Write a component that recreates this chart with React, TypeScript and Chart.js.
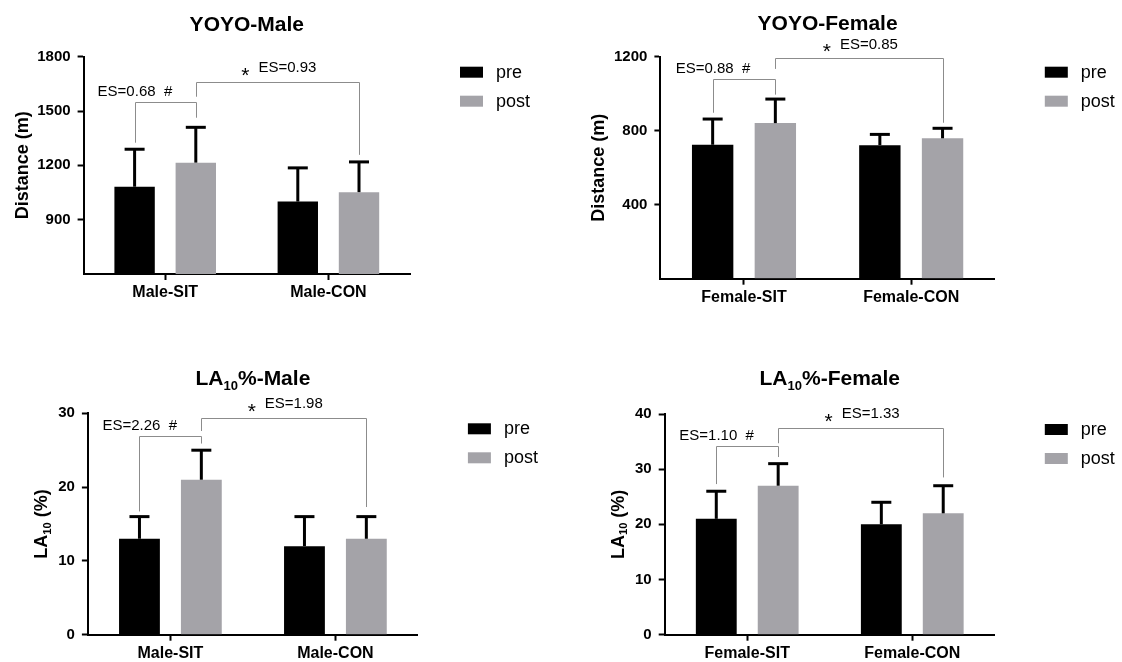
import React, { useEffect, useRef } from "react";
import { Chart, registerables } from "chart.js";

Chart.register(...registerables);

const FONT = "'Liberation Sans', Arial, Helvetica, sans-serif";

// ---------- data ----------
const seriesNames = ["pre", "post"];
const maleGroups = ["Male-SIT", "Male-CON"];
const femaleGroups = ["Female-SIT", "Female-CON"];

const yoyoMalePre = [1082, 1000];
const yoyoMalePreSD = [207, 186];
const yoyoMalePost = [1215, 1052];
const yoyoMalePostSD = [195, 167];

const yoyoFemalePre = [724, 722];
const yoyoFemalePreSD = [139, 58];
const yoyoFemalePost = [841, 759];
const yoyoFemalePostSD = [130, 54];

const laMalePre = [13, 12];
const laMalePreSD = [3, 4];
const laMalePost = [21, 13];
const laMalePostSD = [4, 3];

const laFemalePre = [21, 20];
const laFemalePreSD = [5, 4];
const laFemalePost = [27, 22];
const laFemalePostSD = [4, 5];

// effect-size labels: [pre vs post (SIT), SIT-post vs CON-post]
const yoyoMaleES = ["ES=0.68", "ES=0.93"];
const yoyoFemaleES = ["ES=0.88", "ES=0.85"];
const laMaleES = ["ES=2.26", "ES=1.98"];
const laFemaleES = ["ES=1.10", "ES=1.33"];

// bracket levels in data units: [top, left leg end, right leg end]
const yoyoMaleBrackets = [[1550, 1325, 1463], [1663, 1579, 1258]];
const yoyoFemaleBrackets = [[1079, 897, 995], [1191, 1134, 843]];
const laMaleBrackets = [[26.9, 16.7, 25.9], [29.4, 27.6, 17.3]];
const laFemaleBrackets = [[34.2, 27.3, 32.2], [37.5, 34.7, 28.5]];

// y axis: [min, max, step]
const yoyoMaleAxis = [600, 1800, 300];
const yoyoFemaleAxis = [0, 1200, 400];
const laMaleAxis = [0, 30, 10];
const laFemaleAxis = [0, 40, 10];

// ---------- styling / layout ----------
const PRE_COLOR = "#000000";
const POST_COLOR = "#a4a3a8";
const BRACKET_COLOR = "#8c8c8c";

type Seg = { t: string; sub?: boolean };

type PanelDef = {
  title: Seg[];
  yTitle: Seg[];
  groups: string[];
  pre: number[];
  preSD: number[];
  post: number[];
  postSD: number[];
  axis: number[];
  es: string[];
  brackets: number[][];
  hideMin: boolean;
  box: { left: number; top: number; w: number; h: number };
  area: { left: number; right: number; top: number; bottom: number };
  titleY: number;
  yTitleX: number;
};

const panels: PanelDef[] = [
  {
    title: [{ t: "YOYO-Male" }],
    yTitle: [{ t: "Distance (m)" }],
    groups: maleGroups,
    pre: yoyoMalePre,
    preSD: yoyoMalePreSD,
    post: yoyoMalePost,
    postSD: yoyoMalePostSD,
    axis: yoyoMaleAxis,
    es: yoyoMaleES,
    brackets: yoyoMaleBrackets,
    hideMin: true,
    box: { left: 0, top: 0, w: 561, h: 331 },
    area: { left: 83.6, right: 410, top: 56.7, bottom: 274 },
    titleY: 24,
    yTitleX: 21.4,
  },
  {
    title: [{ t: "YOYO-Female" }],
    yTitle: [{ t: "Distance (m)" }],
    groups: femaleGroups,
    pre: yoyoFemalePre,
    preSD: yoyoFemalePreSD,
    post: yoyoFemalePost,
    postSD: yoyoFemalePostSD,
    axis: yoyoFemaleAxis,
    es: yoyoFemaleES,
    brackets: yoyoFemaleBrackets,
    hideMin: true,
    box: { left: 561, top: 0, w: 561, h: 331 },
    area: { left: 660.4, right: 994.8, top: 56.7, bottom: 278.7 },
    titleY: 23,
    yTitleX: 597.6,
  },
  {
    title: [{ t: "LA" }, { t: "10", sub: true }, { t: "%-Male" }],
    yTitle: [{ t: "LA" }, { t: "10", sub: true }, { t: " (%)" }],
    groups: maleGroups,
    pre: laMalePre,
    preSD: laMalePreSD,
    post: laMalePost,
    postSD: laMalePostSD,
    axis: laMaleAxis,
    es: laMaleES,
    brackets: laMaleBrackets,
    hideMin: false,
    box: { left: 0, top: 331, w: 561, h: 331 },
    area: { left: 87.9, right: 417.9, top: 413.3, bottom: 634.7 },
    titleY: 378,
    yTitleX: 41,
  },
  {
    title: [{ t: "LA" }, { t: "10", sub: true }, { t: "%-Female" }],
    yTitle: [{ t: "LA" }, { t: "10", sub: true }, { t: " (%)" }],
    groups: femaleGroups,
    pre: laFemalePre,
    preSD: laFemalePreSD,
    post: laFemalePost,
    postSD: laFemalePostSD,
    axis: laFemaleAxis,
    es: laFemaleES,
    brackets: laFemaleBrackets,
    hideMin: false,
    box: { left: 561, top: 331, w: 561, h: 331 },
    area: { left: 664.7, right: 994.8, top: 414, bottom: 634.7 },
    titleY: 378,
    yTitleX: 617.3,
  },
];

const Y_W = 60;
const X_H = 25;

function fontStr(size: number, bold: boolean) {
  return `${bold ? "bold " : ""}${size}px ${FONT}`;
}

function drawRich(ctx: CanvasRenderingContext2D, segs: Seg[], cx: number, cy: number, size: number, bold: boolean) {
  const subSize = size * 0.62;
  let w = 0;
  for (const s of segs) {
    ctx.font = fontStr(s.sub ? subSize : size, bold);
    w += ctx.measureText(s.t).width;
  }
  let x = cx - w / 2;
  const base = cy + size * 0.35;
  ctx.textAlign = "left";
  ctx.textBaseline = "alphabetic";
  for (const s of segs) {
    ctx.font = fontStr(s.sub ? subSize : size, bold);
    ctx.fillText(s.t, x, s.sub ? base + size * 0.2 : base);
    x += ctx.measureText(s.t).width;
  }
}

function makeDecor(p: PanelDef) {
  return {
    id: "decor",
    afterDraw(chart: any) {
      const ctx: CanvasRenderingContext2D = chart.ctx;
      const a = chart.chartArea;
      const ys = chart.scales.y;
      const py = (v: number) => ys.getPixelForValue(v);
      const ox = p.box.left;
      const oy = p.box.top;
      ctx.save();

      // error bars (mean + SD)
      [p.preSD, p.postSD].forEach((sds, di) => {
        const meta = chart.getDatasetMeta(di);
        meta.data.forEach((el: any, j: number) => {
          const v = chart.data.datasets[di].data[j] as number;
          const yTop = py(v + sds[j]);
          ctx.strokeStyle = "#000";
          ctx.lineWidth = 3;
          ctx.lineCap = "butt";
          ctx.beginPath();
          ctx.moveTo(el.x, el.y);
          ctx.lineTo(el.x, yTop);
          ctx.stroke();
          ctx.beginPath();
          ctx.moveTo(el.x - 10, yTop);
          ctx.lineTo(el.x + 10, yTop);
          ctx.stroke();
        });
      });

      // brackets
      const xPre0 = chart.getDatasetMeta(0).data[0].x;
      const xPost0 = chart.getDatasetMeta(1).data[0].x;
      const xPost1 = chart.getDatasetMeta(1).data[1].x;
      const crisp = (v: number) => Math.round(v) + 0.5;
      const bracket = (xl: number, xr: number, b: number[]) => {
        ctx.strokeStyle = BRACKET_COLOR;
        ctx.lineWidth = 1;
        ctx.beginPath();
        ctx.moveTo(crisp(xl), py(b[1]));
        ctx.lineTo(crisp(xl), crisp(py(b[0])));
        ctx.lineTo(crisp(xr), crisp(py(b[0])));
        ctx.lineTo(crisp(xr), py(b[2]));
        ctx.stroke();
      };
      const [b1, b2] = p.brackets;
      bracket(xPre0, xPost0, b1);
      bracket(xPost0, xPost1, b2);

      // effect size labels
      ctx.fillStyle = "#000";
      ctx.font = fontStr(15, false);
      ctx.textAlign = "left";
      ctx.textBaseline = "middle";
      ctx.fillText(p.es[0] + "  #", xPre0 - 37, py(b1[0]) - 10);
      const mid = (xPost0 + xPost1) / 2;
      const ly = py(b2[0]) - 14;
      ctx.fillText(p.es[1], mid - 19, ly);
      ctx.font = fontStr(21, false);
      ctx.textAlign = "center";
      ctx.textBaseline = "alphabetic";
      ctx.fillText("*", mid - 32, ly + 2 + 21 * 0.575);

      // title
      ctx.fillStyle = "#000";
      drawRich(ctx, p.title, (a.left + a.right) / 2, p.titleY - oy, 21, true);

      // y-axis title
      ctx.save();
      ctx.translate(p.yTitleX - ox, (a.top + a.bottom) / 2);
      ctx.rotate(-Math.PI / 2);
      drawRich(ctx, p.yTitle, 0, 0, 18, true);
      ctx.restore();

      // legend
      const lx = a.right + 50;
      const colors = [PRE_COLOR, POST_COLOR];
      seriesNames.forEach((name, i) => {
        const by = a.top + 10 + i * 29;
        ctx.fillStyle = colors[i];
        ctx.fillRect(lx, by, 23, 11);
        ctx.fillStyle = "#000";
        ctx.font = fontStr(18, false);
        ctx.textAlign = "left";
        ctx.textBaseline = "middle";
        ctx.fillText(name, lx + 36, by + 6);
      });

      ctx.restore();
    },
  };
}

function Panel({ p }: { p: PanelDef }) {
  const ref = useRef<HTMLCanvasElement>(null);
  useEffect(() => {
    const canvas = ref.current!;
    const [min, max, step] = p.axis;
    const pad = {
      left: p.area.left - p.box.left - Y_W,
      right: p.box.left + p.box.w - p.area.right,
      top: p.area.top - p.box.top,
      bottom: p.box.top + p.box.h - p.area.bottom - X_H,
    };
    const chart = new Chart(canvas, {
      type: "bar",
      data: {
        labels: p.groups,
        datasets: [
          {
            label: seriesNames[0],
            data: p.pre,
            backgroundColor: PRE_COLOR,
            borderWidth: 0,
            categoryPercentage: 0.75,
            barPercentage: 0.66,
          },
          {
            label: seriesNames[1],
            data: p.post,
            backgroundColor: POST_COLOR,
            borderWidth: 0,
            categoryPercentage: 0.75,
            barPercentage: 0.66,
          },
        ],
      },
      options: {
        animation: false,
        responsive: false,
        devicePixelRatio: 1,
        layout: { padding: pad },
        plugins: {
          legend: { display: false },
          title: { display: false },
          tooltip: { enabled: false },
        },
        scales: {
          x: {
            type: "category",
            offset: true,
            grid: {
              display: true,
              drawOnChartArea: false,
              drawTicks: true,
              tickLength: 6,
              tickWidth: 2,
              tickColor: "#000",
              offset: false,
            },
            border: { display: true, color: "#000", width: 2 },
            ticks: {
              color: "#000",
              font: { family: FONT, size: 16, weight: "bold" },
              padding: 3,
              maxRotation: 0,
              autoSkip: false,
            },
            afterFit: (s: any) => {
              s.height = X_H;
            },
          },
          y: {
            min,
            max,
            grid: {
              display: true,
              drawOnChartArea: false,
              drawTicks: true,
              tickLength: 6,
              tickWidth: 2,
              tickColor: (c: any) =>
                p.hideMin && c.tick && c.tick.value === min ? "rgba(0,0,0,0)" : "#000",
            },
            border: { display: true, color: "#000", width: 2 },
            ticks: {
              stepSize: step,
              color: "#000",
              font: { family: FONT, size: 15, weight: "bold" },
              padding: 7,
              callback: (v: any) => (p.hideMin && v === min ? "" : String(v)),
            },
            afterFit: (s: any) => {
              s.width = Y_W;
            },
          },
        },
      } as any,
      plugins: [makeDecor(p)],
    });
    return () => chart.destroy();
  }, []);
  return (
    <canvas
      ref={ref}
      width={p.box.w}
      height={p.box.h}
      style={{ position: "absolute", left: p.box.left, top: p.box.top, width: p.box.w, height: p.box.h }}
    />
  );
}

export default function App() {
  return (
    <div style={{ position: "absolute", left: 0, top: 0, width: 1122, height: 662, background: "#fff", overflow: "hidden" }}>
      {panels.map((p, i) => (
        <Panel key={i} p={p} />
      ))}
    </div>
  );
}
